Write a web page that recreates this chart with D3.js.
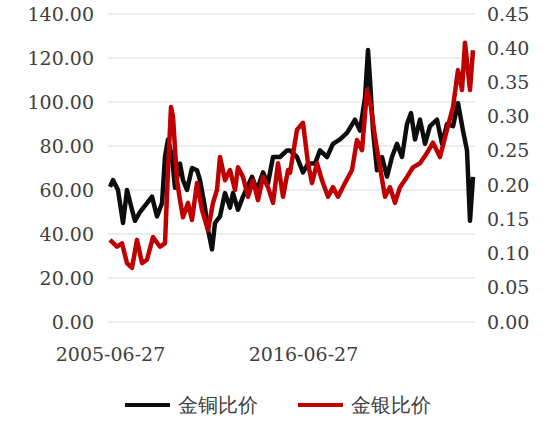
<!DOCTYPE html>
<html><head><meta charset="utf-8">
<script src="https://cdn.jsdelivr.net/npm/d3@7"></script>
<style>body{margin:0;background:#fff}text{font-family:"DejaVu Serif",serif}</style>
</head><body><svg id="chart" width="558" height="423"></svg>
<script>
// trading-day index from start, value
var dayIdx = [0,42,112,182,238,308,350,420,518,588,658,728,770,812,868,910,980,1022,1078,1148,1218,1260,1330,1372,1428,1470,1540,1610,1680,1722,1792,1862,1988,2058,2142,2212,2282,2380,2478,
  2520,2618,2702,2772,2870,2940,3038,3122,3220,3318,3430,3500,3570,3612,3640,3682,3738,3808,3878,3948,4018,4088,4158,4214,4270,4340,4410,4480,4578,4648,4718,4802,4872,4942,4998,5040,5082];
var goldCopper = [61.4,64.5,60,45,60,51,46,50,54,57,48,54,75,83,75,61,72,64.5,60,70,69,64.5,52,42,33,45,48,58.6,52,58.6,51,57,66,60,68,63,75,75,78,
  78,75,68,72,72,78,75,81,83,86,92,87,102,123.6,110,87,69,75,66,75,81,75,90,95,83,92,81,89,92,81,90,89,99.5,87,78,46,66];
var redDay = [0,98,168,238,308,378,448,518,602,700,770,812,854,882,938,980,1022,1092,1148,1218,1288,1372,1442,1498,1540,1610,1680,1750,1792,1862,1932,2002,2072,2142,2212,2282,2352,2422,2492,
  2520,2618,2702,2772,2828,2898,2968,3052,3122,3192,3290,3388,3458,3528,3598,3654,3710,3780,3850,3920,3990,4060,4158,4242,4340,4438,4522,4620,4718,4802,4872,4928,4970,5040,5082];
var goldSilver = [0.120,0.110,0.115,0.086,0.079,0.120,0.086,0.091,0.124,0.110,0.115,0.222,0.314,0.300,0.207,0.178,0.153,0.174,0.149,0.203,0.164,0.134,0.174,0.193,0.241,0.207,0.222,0.193,0.226,0.212,0.183,0.207,0.178,0.212,0.197,0.174,0.232,0.183,0.222,
  0.218,0.281,0.291,0.232,0.203,0.232,0.207,0.183,0.197,0.183,0.203,0.222,0.266,0.251,0.339,0.314,0.270,0.226,0.183,0.197,0.174,0.197,0.212,0.226,0.232,0.247,0.262,0.241,0.281,0.314,0.368,0.339,0.408,0.339,0.397];
var leftTicks = [0,20,40,60,80,100,120,140];
var rightTicks = [0,0.05,0.10,0.15,0.20,0.25,0.30,0.35,0.40,0.45];
var xTickDays = [0,2702];
var xTickLabels = ['2005-06-27','2016-06-27'];
var seriesNames = ['金铜比价','金银比价'];
var colors = ['#0d0d0d','#c00000'];

function zip(a, b) {
  var n = Math.min(a.length, b.length);
  return d3.range(n).map(i => [a[i], b[i]]);
}

var svg = d3.select('#chart');
var x = d3.scaleLinear().domain([0, 5082]).range([110, 473]);
var yL = d3.scaleLinear().domain([0, 140]).range([322, 14]);
var yR = d3.scaleLinear().domain([0, 0.45]).range([322, 14]);

svg.append('g').selectAll('line').data(leftTicks).enter().append('line')
  .attr('x1', 108).attr('x2', 475)
  .attr('y1', d => yL(d)).attr('y2', d => yL(d))
  .attr('stroke', '#d9d9d9').attr('stroke-width', 1);

svg.append('g').attr('transform', 'translate(97,0)')
  .call(d3.axisLeft(yL).tickValues(leftTicks).tickFormat(d3.format('.2f')).tickSize(0))
  .call(g => g.select('.domain').remove())
  .selectAll('text').attr('font-size', 19).attr('fill', '#404040').attr('font-family', 'DejaVu Serif');

svg.append('g').attr('transform', 'translate(484,0)')
  .call(d3.axisRight(yR).tickValues(rightTicks).tickFormat(d3.format('.2f')).tickSize(0))
  .call(g => g.select('.domain').remove())
  .selectAll('text').attr('font-size', 19).attr('fill', '#404040').attr('font-family', 'DejaVu Serif');

svg.append('g').attr('transform', 'translate(0,344)')
  .call(d3.axisBottom(x).tickValues(xTickDays).tickFormat((d, i) => xTickLabels[i]).tickSize(0))
  .call(g => g.select('.domain').remove())
  .selectAll('text').attr('font-size', 19).attr('fill', '#404040').attr('font-family', 'DejaVu Serif');

var lineL = d3.line().x(d => x(d[0])).y(d => yL(d[1]));
var lineR = d3.line().x(d => x(d[0])).y(d => yR(d[1]));

svg.append('path').datum(zip(dayIdx, goldCopper)).attr('d', lineL)
  .attr('fill', 'none').attr('stroke', colors[0]).attr('stroke-width', 4.5).attr('stroke-linejoin', 'round');
svg.append('path').datum(zip(redDay, goldSilver)).attr('d', lineR)
  .attr('fill', 'none').attr('stroke', colors[1]).attr('stroke-width', 4.5).attr('stroke-linejoin', 'round');

var legend = svg.append('g');
[[125, 0], [298, 1]].forEach(function(p) {
  legend.append('line').attr('x1', p[0]).attr('x2', p[0] + 45).attr('y1', 405).attr('y2', 405)
    .attr('stroke', colors[p[1]]).attr('stroke-width', 4);
  legend.append('text').attr('x', p[0] + 53).attr('y', 412).attr('font-size', 20)
    .attr('fill', '#404040').attr('font-family', 'Noto Sans CJK SC').text(seriesNames[p[1]]);
});
</script></body></html>
